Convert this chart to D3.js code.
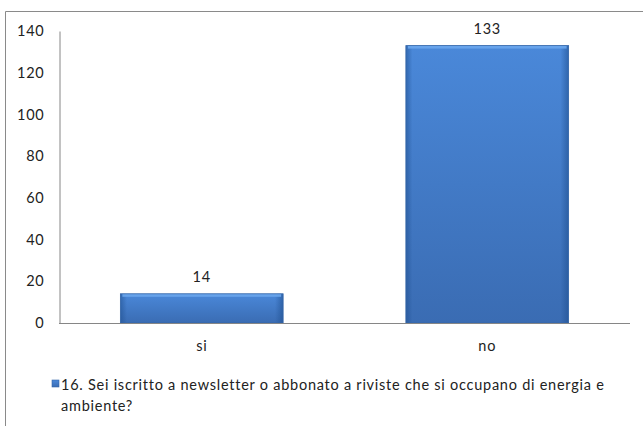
<!DOCTYPE html>
<html><head><meta charset="utf-8">
<script src="https://cdn.jsdelivr.net/npm/d3@7"></script>
<style>body{margin:0;background:#fff}svg{display:block}</style>
</head><body>
<script>
const categories = ["si", "no"];
const values = [14, 133];
const yTicks = [0, 20, 40, 60, 80, 100, 120, 140];
const legendLines = ["16. Sei iscritto a newsletter o abbonato a riviste che si occupano di energia e", "ambiente?"];

const W = 643, H = 426;
const font = "Lato, 'Open Sans', sans-serif";
const fs = 14.5, ls = "0.75px";
const svg = d3.select("body").append("svg").attr("width", W).attr("height", H);

const defs = svg.append("defs");
const g1 = defs.append("linearGradient").attr("id", "vg").attr("x1", 0).attr("y1", 0).attr("x2", 0).attr("y2", 1);
g1.append("stop").attr("offset", "0%").attr("stop-color", "#4a88d9");
g1.append("stop").attr("offset", "100%").attr("stop-color", "#3a6cb3");
const g2 = defs.append("linearGradient").attr("id", "hg").attr("x1", 0).attr("y1", 0).attr("x2", 1).attr("y2", 0);
g2.append("stop").attr("offset", "0%").attr("stop-color", "#1f4f8f").attr("stop-opacity", 0.55);
g2.append("stop").attr("offset", "4%").attr("stop-color", "#1f4f8f").attr("stop-opacity", 0);
g2.append("stop").attr("offset", "95%").attr("stop-color", "#1f4f8f").attr("stop-opacity", 0);
g2.append("stop").attr("offset", "100%").attr("stop-color", "#1f4f8f").attr("stop-opacity", 0.6);

// frame
svg.append("path").attr("d", `M5.5,${H} V11.5 H${W}`).attr("fill", "none").attr("stroke", "#8a8a8a").attr("stroke-width", 1);

const x0 = 59, x1 = 630, yTop = 31, yBase = 323;
const x = d3.scaleBand().domain(categories).range([x0, x1]).paddingInner(0.43).paddingOuter(0.215);
const y = d3.scaleLinear().domain([0, 140]).range([yBase, yTop]);

// y axis
const ya = svg.append("g").attr("transform", `translate(${x0 + 0.5},0)`)
  .call(d3.axisLeft(y).tickValues(yTicks).tickSize(0).tickPadding(15));
ya.select(".domain").attr("stroke", "#868686");
ya.selectAll("text").attr("font-family", font).attr("font-size", fs).attr("letter-spacing", ls).attr("fill", "#222");

// bars
const bars = svg.append("g");
categories.forEach((c, i) => {
  const bx = x(c), bw = x.bandwidth(), by = y(values[i]), bh = yBase - y(values[i]);
  bars.append("rect").attr("x", bx).attr("y", by).attr("width", bw).attr("height", bh).attr("fill", "url(#vg)");
  bars.append("rect").attr("x", bx).attr("y", by).attr("width", bw).attr("height", bh).attr("fill", "url(#hg)");
  bars.append("rect").attr("x", bx + 2).attr("y", by).attr("width", bw - 4).attr("height", 3).attr("fill", "#6aa6ec").attr("opacity", 0.9);
  bars.append("rect").attr("x", bx).attr("y", by).attr("width", bw).attr("height", bh).attr("fill", "none").attr("stroke", "#3566a8").attr("stroke-width", 0.8);
  svg.append("text").attr("x", bx + bw / 2).attr("y", by - 12).attr("text-anchor", "middle")
    .attr("font-family", font).attr("font-size", fs).attr("letter-spacing", ls).attr("fill", "#222").text(values[i]);
});

// x axis
const xa = svg.append("g").attr("transform", `translate(0,${yBase + 0.5})`)
  .call(d3.axisBottom(x).tickSize(0).tickPadding(17));
xa.select(".domain").attr("stroke", "#868686").attr("d", `M${x0},0H${x1}`);
xa.selectAll("text").attr("font-family", font).attr("font-size", fs).attr("letter-spacing", ls).attr("fill", "#222");

// legend
const lg = svg.append("g");
lg.append("rect").attr("x", 52).attr("y", 380).attr("width", 7).attr("height", 7).attr("fill", "url(#vg)").attr("stroke", "#3566a8").attr("stroke-width", 0.6);
legendLines.forEach((t, i) => {
  lg.append("text").attr("x", 61).attr("y", 390 + i * 21).attr("font-family", font).attr("font-size", fs).attr("letter-spacing", ls).attr("fill", "#222").text(t);
});
</script>
</body></html>
